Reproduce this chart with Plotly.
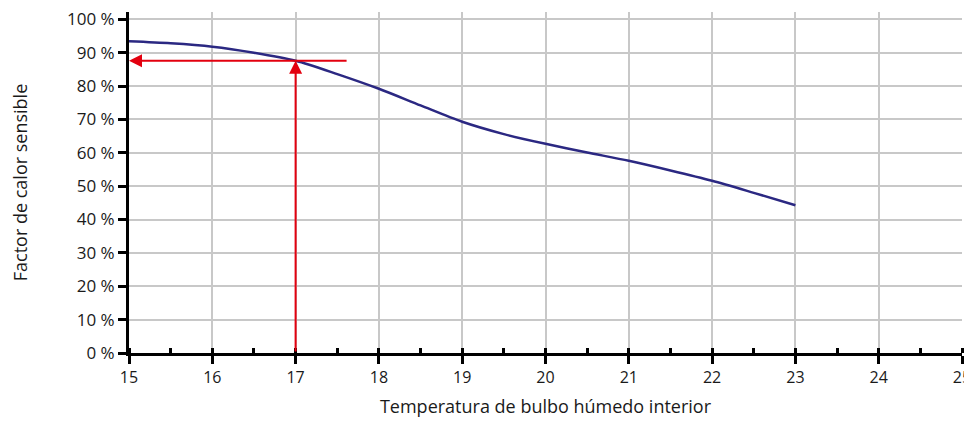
import plotly.graph_objects as go

# Data
temp_x = [15, 15.5, 16, 16.5, 17, 17.5, 18, 18.5, 19, 19.5, 20, 20.5, 21, 21.5, 22, 22.5, 23]
factor_y = [93.4, 92.8, 91.8, 90.0, 87.6, 83.6, 79.2, 74.2, 69.3, 65.6, 62.7, 60.1, 57.6, 54.7, 51.6, 48.0, 44.3]

x_ticks = list(range(15, 26))
y_tick_vals = list(range(0, 101, 10))
y_tick_text = [f"{v} %" for v in y_tick_vals]

# Reading example (red arrows)
read_x = 17
read_y = 87.6
horiz_start_x = 17.63

fig = go.Figure()
fig.add_trace(go.Scatter(
    x=temp_x, y=factor_y, mode="lines",
    line=dict(color="#2b2882", width=2.5, shape="spline", smoothing=0.8),
    hoverinfo="skip", showlegend=False,
))

# vertical arrow from x-axis up to curve
fig.add_annotation(
    x=read_x, y=read_y, ax=read_x, ay=0,
    xref="x", yref="y", axref="x", ayref="y",
    showarrow=True, arrowhead=2, arrowsize=1.3, arrowwidth=2,
    arrowcolor="#e3000f", text="", standoff=0,
)
# horizontal arrow from curve to y-axis
fig.add_annotation(
    x=15, y=read_y, ax=horiz_start_x, ay=read_y,
    xref="x", yref="y", axref="x", ayref="y",
    showarrow=True, arrowhead=2, arrowsize=1.3, arrowwidth=2,
    arrowcolor="#e3000f", text="", standoff=0,
)

# page body has an 8px margin; compensate
fig.update_layout(
    width=964, height=413,
    margin=dict(l=121, r=10, t=4, b=68),
    plot_bgcolor="white", paper_bgcolor="white",
    font=dict(family="Open Sans", size=17, color="#1a1a1a"),
    showlegend=False,
)
fig.update_xaxes(
    range=[15, 25], tickvals=x_ticks, ticktext=[str(v) for v in x_ticks],
    showgrid=True, gridcolor="#c8c8c8", gridwidth=1.5,
    showline=True, linecolor="black", linewidth=3,
    ticks="outside", ticklen=8, tickwidth=2.5, tickcolor="black",
    minor=dict(dtick=0.5, tick0=15, ticks="inside", ticklen=5, tickwidth=2.5, tickcolor="black", showgrid=False),
    zeroline=False, automargin=False, ticklabeloverflow="allow",
    title=dict(text="Temperatura de bulbo húmedo interior", font=dict(size=18), standoff=14),
    tickfont=dict(size=16),
)
fig.update_yaxes(
    range=[0, 102.2], tickvals=y_tick_vals, ticktext=y_tick_text,
    showgrid=True, gridcolor="#c8c8c8", gridwidth=1.5,
    showline=True, linecolor="black", linewidth=3,
    ticks="outside", ticklen=8, tickwidth=2.5, tickcolor="black",
    zeroline=False, automargin=False, ticklabeloverflow="allow",
    title=dict(text="Factor de calor sensible", font=dict(size=18), standoff=40),
    tickfont=dict(size=17),
)

fig.write_html("out.html")
